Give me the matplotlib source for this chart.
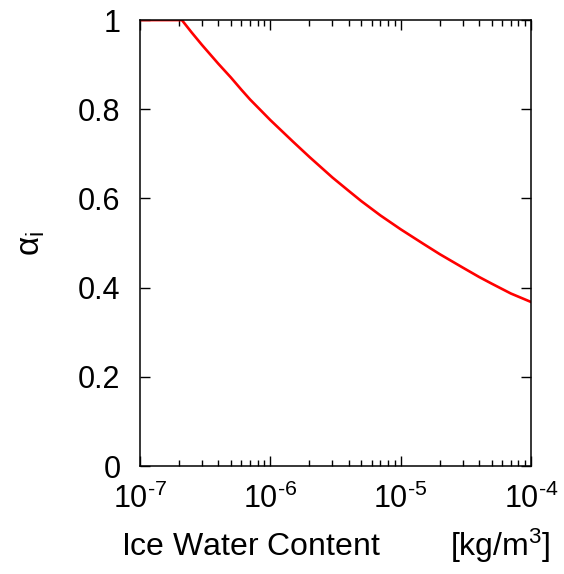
import numpy as np
import matplotlib.pyplot as plt
from matplotlib.ticker import LogLocator, NullFormatter

plt.rcParams['font.family'] = ['Liberation Sans', 'DejaVu Sans']
plt.rcParams['mathtext.fontset'] = 'custom'
plt.rcParams['mathtext.rm'] = 'Liberation Sans'
plt.rcParams['mathtext.it'] = 'Liberation Sans'

# values
iwc = [1e-7, 2.1e-7, 2.5e-7, 3e-7, 4e-7, 5e-7, 6e-7, 7e-7, 8.5e-7, 1e-6,
       1.5e-6, 2e-6, 3e-6, 4e-6, 5e-6, 7e-6, 1e-5, 1.5e-5, 2e-5, 3e-5,
       4e-5, 5e-5, 7e-5, 1e-4]
alpha = [1.0, 1.0, 0.972, 0.944, 0.902, 0.871, 0.844, 0.822, 0.797, 0.776,
         0.727, 0.693, 0.647, 0.617, 0.594, 0.562, 0.531, 0.498, 0.475, 0.445,
         0.424, 0.409, 0.387, 0.368]

xticks = [1e-7, 1e-6, 1e-5, 1e-4]
xticklabels = [r'10$^{\text{-7}}$', r'10$^{\text{-6}}$', r'10$^{\text{-5}}$', r'10$^{\text{-4}}$']
yticks = [0, 0.2, 0.4, 0.6, 0.8, 1]
yticklabels = ['0', '0.2', '0.4', '0.6', '0.8', '1']

fig = plt.figure(figsize=(5.64, 5.74), dpi=100)
ax = fig.add_axes([0.248, 0.188, 0.6935, 0.777])

ax.plot(iwc, alpha, color='red', lw=1.9)

ax.set_xscale('log')
ax.set_xlim(1e-7, 1e-4)
ax.set_ylim(0, 1)

ax.set_xticks(xticks)
ax.set_xticklabels(xticklabels)
ax.xaxis.set_minor_locator(LogLocator(base=10, subs=np.arange(2, 10)))
ax.xaxis.set_minor_formatter(NullFormatter())
ax.set_yticks(yticks)
ax.set_yticklabels(yticklabels)

ax.tick_params(which='both', direction='in', top=True, right=True, width=1.0, labelsize=22)
ax.tick_params(which='major', length=7)
ax.tick_params(which='minor', length=4)
ax.tick_params(axis='y', pad=14)
ax.tick_params(axis='x', pad=13)
for s in ax.spines.values():
    s.set_linewidth(1.1)

ax.set_xlabel('Ice Water Content        [kg/m$^3$]', fontsize=23, labelpad=8)
ax.set_ylabel(r'$\alpha_\mathregular{i}$', fontsize=24, labelpad=22)

fig.savefig('out.png', dpi=100)
